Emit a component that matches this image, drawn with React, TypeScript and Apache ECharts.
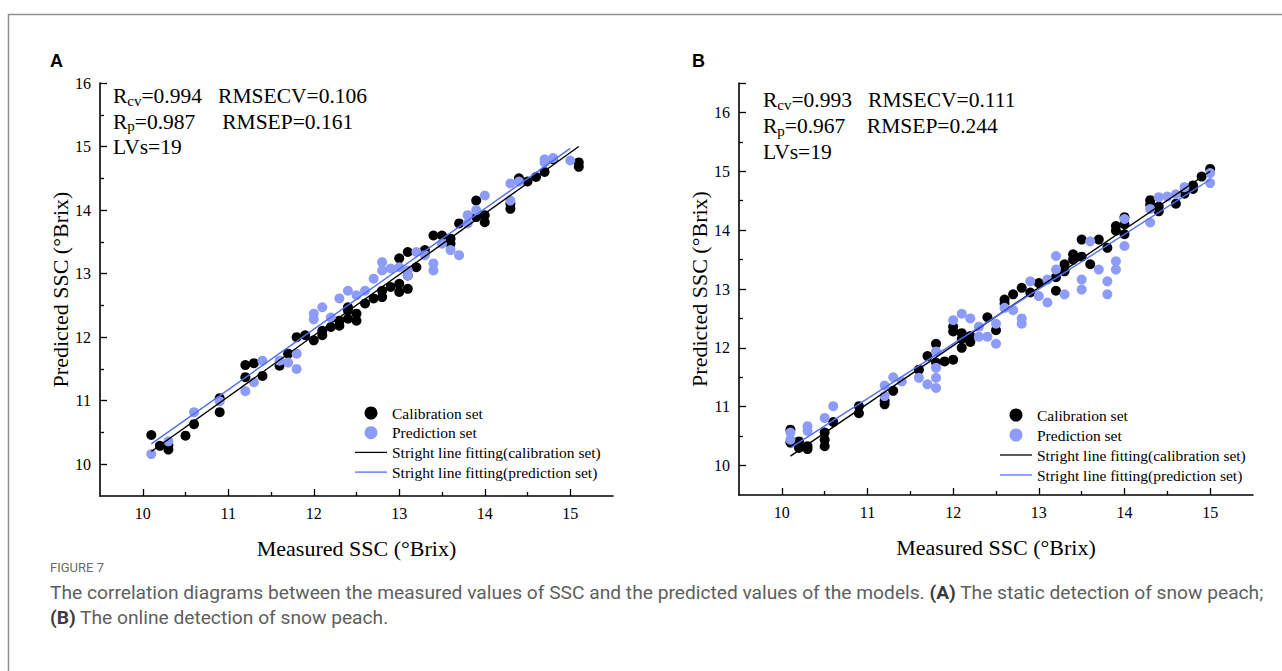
import React, { useEffect, useRef } from "react";
import * as echarts from "echarts";

// ---------- data ----------
const xMajorTicks = [10, 11, 12, 13, 14, 15];
const yMajorTicks = [10, 11, 12, 13, 14, 15, 16];
const yTickMarksB = [10, 11, 12, 13, 14, 15, 16, 16.5];

const seriesNames = [
  "Calibration set",
  "Prediction set",
  "Stright line fitting(calibration set)",
  "Stright line fitting(prediction set)",
];

// Panel A: static detection
const calibrationA: number[][] = [
  [10.1, 10.46], [10.2, 10.29], [10.3, 10.23], [10.3, 10.3], [10.5, 10.45], [10.6, 10.63],
  [10.9, 10.82], [10.9, 11.04], [11.2, 11.56], [11.3, 11.59], [11.2, 11.37], [11.4, 11.39],
  [11.6, 11.55], [11.7, 11.74], [11.8, 12.0], [11.9, 12.03], [12.0, 11.95], [12.1, 12.03],
  [12.1, 12.1], [12.2, 12.16], [12.3, 12.18], [12.3, 12.26], [12.4, 12.29], [12.4, 12.42],
  [12.4, 12.47], [12.5, 12.26], [12.5, 12.37], [12.6, 12.53], [12.7, 12.61], [12.8, 12.63],
  [12.8, 12.73], [12.9, 12.79], [13.0, 12.71], [13.1, 12.76], [13.0, 12.84], [13.1, 12.97],
  [13.0, 13.24], [13.1, 13.34], [13.2, 13.1], [13.3, 13.37], [13.4, 13.6], [13.5, 13.6],
  [13.6, 13.55], [13.6, 13.47], [13.7, 13.79], [13.9, 14.15], [13.9, 13.89], [14.0, 13.92],
  [14.0, 13.81], [14.3, 14.02], [14.3, 14.1], [14.4, 14.5], [14.5, 14.45], [14.6, 14.52],
  [14.7, 14.6], [14.8, 14.8], [15.1, 14.75], [15.1, 14.68],
];
const predictionA: number[][] = [
  [10.1, 10.16], [10.3, 10.36], [10.6, 10.82], [10.9, 10.99], [11.2, 11.15], [11.3, 11.29],
  [11.4, 11.63], [11.6, 11.63], [11.7, 11.6], [11.8, 11.74], [11.8, 11.5], [12.0, 12.37],
  [12.0, 12.28], [12.1, 12.47], [12.2, 12.31], [12.3, 12.61], [12.4, 12.73], [12.5, 12.66],
  [12.6, 12.73], [12.7, 12.92], [12.8, 13.18], [12.8, 13.05], [12.9, 13.08], [13.0, 13.1],
  [13.1, 13.05], [13.1, 12.97], [13.2, 13.34], [13.3, 13.29], [13.4, 13.16], [13.4, 13.05],
  [13.5, 13.47], [13.6, 13.37], [13.7, 13.29], [13.8, 13.92], [13.8, 13.79], [13.9, 14.0],
  [14.0, 14.23], [14.3, 14.15], [14.3, 14.42], [14.4, 14.45], [14.7, 14.75], [14.7, 14.8],
  [14.8, 14.82], [15.0, 14.78],
];
const fitCalibrationA: number[][] = [[10.1, 10.2], [15.1, 15.0]];
const fitPredictionA: number[][] = [[10.1, 10.32], [15.0, 14.97]];

// Panel B: online detection
const calibrationB: number[][] = [
  [10.1, 10.61], [10.1, 10.39], [10.2, 10.41], [10.2, 10.3], [10.3, 10.28], [10.3, 10.33],
  [10.5, 10.56], [10.5, 10.44], [10.5, 10.33], [10.6, 10.74], [10.9, 11.01], [10.9, 10.89],
  [11.2, 11.04], [11.2, 11.1], [11.3, 11.27], [11.6, 11.63], [11.7, 11.86], [11.8, 12.07],
  [11.8, 11.75], [11.9, 11.77], [12.0, 11.8], [12.0, 12.36], [12.0, 12.28], [12.1, 12.25],
  [12.1, 12.0], [12.1, 12.15], [12.2, 12.1], [12.2, 12.2], [12.4, 12.52], [12.5, 12.3],
  [12.6, 12.82], [12.6, 12.75], [12.7, 12.91], [12.8, 13.02], [12.9, 12.94], [13.0, 13.1],
  [13.2, 12.97], [13.2, 13.2], [13.3, 13.42], [13.3, 13.3], [13.4, 13.59], [13.4, 13.5],
  [13.5, 13.84], [13.5, 13.55], [13.6, 13.42], [13.7, 13.84], [13.8, 13.7], [13.9, 14.07],
  [13.9, 13.99], [14.0, 14.22], [14.0, 13.93], [14.0, 14.1], [14.3, 14.51], [14.3, 14.43],
  [14.4, 14.32], [14.4, 14.4], [14.6, 14.45], [14.7, 14.62], [14.8, 14.76], [14.8, 14.7],
  [14.9, 14.91], [15.0, 15.04],
];
const predictionB: number[][] = [
  [10.1, 10.56], [10.1, 10.44], [10.3, 10.67], [10.3, 10.59], [10.5, 10.81], [10.6, 11.01],
  [11.2, 11.18], [11.2, 11.36], [11.3, 11.5], [11.4, 11.43], [11.6, 11.49], [11.7, 11.38],
  [11.8, 11.32], [11.8, 11.49], [11.8, 11.66], [11.8, 11.94], [12.0, 12.47], [12.1, 12.58],
  [12.2, 12.5], [12.3, 12.36], [12.3, 12.19], [12.4, 12.19], [12.5, 12.07], [12.5, 12.41],
  [12.6, 12.68], [12.7, 12.64], [12.8, 12.41], [12.8, 12.5], [12.9, 13.13], [13.0, 12.88],
  [13.1, 12.77], [13.1, 13.16], [13.2, 13.56], [13.2, 13.33], [13.3, 12.91], [13.5, 12.99],
  [13.5, 13.16], [13.6, 13.81], [13.7, 13.33], [13.8, 13.13], [13.8, 12.91], [13.9, 13.47],
  [13.9, 13.33], [14.0, 14.19], [14.0, 13.73], [14.3, 14.13], [14.3, 14.36], [14.4, 14.56],
  [14.5, 14.57], [14.6, 14.61], [14.7, 14.73], [15.0, 14.8], [15.0, 14.97],
];
const fitCalibrationB: number[][] = [[10.1, 10.16], [15.0, 15.0]];
const fitPredictionB: number[][] = [[10.1, 10.3], [15.0, 14.86]];

const statsA = ["0.994", "0.106", "0.987", "0.161", "19"];
const statsB = ["0.993", "0.111", "0.967", "0.244", "19"];

const captionTitle = "FIGURE 7";
const captionLine1 =
  "The correlation diagrams between the measured values of SSC and the predicted values of the models. ";
const captionLine1b = " The static detection of snow peach;";
const captionLine2 = " The online detection of snow peach.";

// ---------- styling ----------
const SERIF = '"Liberation Serif", "Times New Roman", serif';
const SANS = '"Liberation Sans", Arial, sans-serif';
const CAPTION_FONT = 'Roboto, "Noto Sans", sans-serif';
const BLUE_PT = "#8c9cf8";
const BLUE_LINE = "#4f6ef7";
const LINE_ICON = "path://M0,0L40,0L40,1.6L0,1.6Z";

function valueAxis(
  gridIndex: number,
  min: number,
  max: number,
  labels: number[],
  tickMarks: number[],
  name: string,
  isX: boolean,
  nameGap: number
) {
  return {
    type: "value",
    gridIndex,
    min,
    max,
    splitNumber: 6,
    position: isX ? "bottom" : "left",
    axisLine: { show: true, onZero: false, lineStyle: { color: "#000", width: 1.6 } },
    axisTick: {
      show: true,
      inside: true,
      length: 7,
      customValues: tickMarks,
      lineStyle: { color: "#000", width: 1.3 },
    },
    minorTick: {
      show: true,
      splitNumber: 2,
      length: 4,
      lineStyle: { color: "#000", width: 1.3 },
    },
    axisLabel: {
      customValues: labels,
      fontFamily: SERIF,
      fontSize: 16,
      color: "#000",
      margin: 9,
    },
    splitLine: { show: false },
    minorSplitLine: { show: false },
    name,
    nameLocation: "middle",
    nameGap,
    nameTextStyle: { fontFamily: SERIF, fontSize: 22, color: "#000" },
  };
}

function statTexts(x: number, y0: number, dy: number, s: string[], gap1: string, gap2: string) {
  const rich = {
    n: { fontFamily: SERIF, fontSize: 21.5, lineHeight: 24, fill: "#000" },
    s: { fontFamily: SERIF, fontSize: 15, lineHeight: 16, verticalAlign: "bottom", fill: "#000" },
  };
  return [
    {
      type: "text",
      x,
      y: y0,
      style: {
        text: `{n|R}{s|cv}{n|=${s[0]}${gap1}RMSECV=${s[1]}}`,
        rich,
        verticalAlign: "middle",
      },
    },
    {
      type: "text",
      x,
      y: y0 + dy,
      style: {
        text: `{n|R}{s|p}{n|=${s[2]}${gap2}RMSEP=${s[3]}}`,
        rich,
        verticalAlign: "middle",
      },
    },
    {
      type: "text",
      x,
      y: y0 + 2 * dy,
      style: {
        text: `{n|LVs=${s[4]}}`,
        rich,
        verticalAlign: "middle",
      },
    },
  ];
}

function panelSeries(
  xi: number,
  cal: number[][],
  pred: number[][],
  fitC: number[][],
  fitP: number[][]
) {
  return [
    {
      name: seriesNames[0],
      type: "scatter",
      xAxisIndex: xi,
      yAxisIndex: xi,
      data: cal,
      symbol: "circle",
      symbolSize: 10,
      itemStyle: { color: "#000", opacity: 1 },
    },
    {
      name: seriesNames[1],
      type: "scatter",
      xAxisIndex: xi,
      yAxisIndex: xi,
      data: pred,
      symbol: "circle",
      symbolSize: 10,
      itemStyle: { color: BLUE_PT, opacity: 1 },
    },
    {
      name: seriesNames[2],
      type: "line",
      xAxisIndex: xi,
      yAxisIndex: xi,
      data: fitC,
      symbol: "none",
      showSymbol: false,
      lineStyle: { color: "#000", width: 1.4 },
      itemStyle: { color: "#000" },
    },
    {
      name: seriesNames[3],
      type: "line",
      xAxisIndex: xi,
      yAxisIndex: xi,
      data: fitP,
      symbol: "none",
      showSymbol: false,
      lineStyle: { color: BLUE_LINE, width: 1.4 },
      itemStyle: { color: BLUE_LINE },
    },
  ];
}

function legendAt(left: number, top: number, gap: number) {
  return {
    left,
    top,
    padding: 0,
    orient: "vertical",
    itemWidth: 32,
    itemHeight: 13,
    itemGap: gap,
    selectedMode: false,
    data: [
      { name: seriesNames[0], icon: "circle", itemStyle: { color: "#000", opacity: 1 } },
      { name: seriesNames[1], icon: "circle", itemStyle: { color: BLUE_PT, opacity: 1 } },
      { name: seriesNames[2], icon: LINE_ICON, itemStyle: { color: "#000" } },
      { name: seriesNames[3], icon: LINE_ICON, itemStyle: { color: BLUE_LINE } },
    ],
    textStyle: { fontFamily: SERIF, fontSize: 15.5, color: "#000" },
  };
}

export default function App() {
  const ref = useRef<HTMLDivElement>(null);

  useEffect(() => {
    if (!ref.current) return;
    const chart = echarts.init(ref.current, null, { renderer: "svg" });
    const xName = "Measured SSC (°Brix)";
    const yName = "Predicted SSC (°Brix)";

    chart.setOption({
      animation: false,
      backgroundColor: "#fff",
      grid: [
        { left: 100, top: 83, width: 513, height: 413 },
        { left: 739, top: 83, width: 514, height: 412 },
      ],
      xAxis: [
        valueAxis(0, 9.5, 15.5, xMajorTicks, xMajorTicks, xName, true, 41),
        valueAxis(1, 9.5, 15.5, xMajorTicks, xMajorTicks, xName, true, 41),
      ],
      yAxis: [
        valueAxis(0, 9.5, 16, yMajorTicks, yMajorTicks, yName, false, 29),
        valueAxis(1, 9.5, 16.5, yMajorTicks, yTickMarksB, yName, false, 29),
      ],
      legend: [legendAt(355, 405, 3.7), legendAt(1000, 407, 4)],
      series: [
        ...panelSeries(0, calibrationA, predictionA, fitCalibrationA, fitPredictionA),
        ...panelSeries(1, calibrationB, predictionB, fitCalibrationB, fitPredictionB),
      ],
      graphic: [
        {
          type: "rect",
          shape: { x: 8.5, y: 14.5, width: 1400, height: 800 },
          style: { fill: "none", stroke: "#909090", lineWidth: 1.5 },
          silent: true,
        },
        {
          type: "text",
          x: 50,
          y: 61,
          style: {
            text: "A",
            fontFamily: SANS,
            fontWeight: "bold",
            fontSize: 18,
            fill: "#000",
            verticalAlign: "middle",
          },
        },
        {
          type: "text",
          x: 692,
          y: 61,
          style: {
            text: "B",
            fontFamily: SANS,
            fontWeight: "bold",
            fontSize: 18,
            fill: "#000",
            verticalAlign: "middle",
          },
        },
        ...statTexts(113, 96, 25.5, statsA, "   ", "     "),
        ...statTexts(763, 100, 26, statsB, "   ", "    "),
        {
          type: "text",
          x: 50,
          y: 567,
          style: {
            text: captionTitle,
            fontFamily: CAPTION_FONT,
            fontSize: 13,
            fill: "#6a6a6a",
            verticalAlign: "middle",
          },
        },
        {
          type: "text",
          x: 50,
          y: 592,
          style: {
            text: `{t|${captionLine1}}{b|(A)}{t|${captionLine1b}}`,
            verticalAlign: "middle",
            rich: {
              t: { fontFamily: CAPTION_FONT, fontSize: 19.2, fill: "#5e5e5e" },
              b: { fontFamily: CAPTION_FONT, fontSize: 19.2, fontWeight: "bold", fill: "#3c3c3c" },
            },
          },
        },
        {
          type: "text",
          x: 50,
          y: 617,
          style: {
            text: `{b|(B)}{t|${captionLine2}}`,
            verticalAlign: "middle",
            rich: {
              t: { fontFamily: CAPTION_FONT, fontSize: 19.2, fill: "#5e5e5e" },
              b: { fontFamily: CAPTION_FONT, fontSize: 19.2, fontWeight: "bold", fill: "#3c3c3c" },
            },
          },
        },
      ],
    });
    return () => chart.dispose();
  }, []);

  return (
    <div
      ref={ref}
      style={{ position: "absolute", left: 0, top: 0, width: 1282, height: 671, background: "#fff" }}
    />
  );
}
